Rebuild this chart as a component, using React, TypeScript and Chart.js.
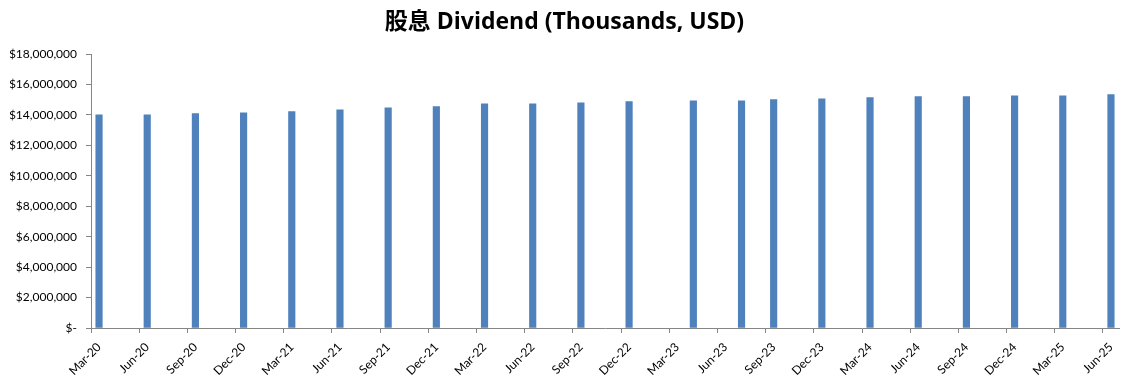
import React, { useEffect, useRef } from 'react';
import { Chart, registerables } from 'chart.js';

Chart.register(...registerables);

// Axis runs monthly from Mar-20 to Jun-25 (date-style axis)
const monthNames = ['Jan', 'Feb', 'Mar', 'Apr', 'May', 'Jun', 'Jul', 'Aug', 'Sep', 'Oct', 'Nov', 'Dec'];
const axisStart = { year: 2020, month: 2 };
const axisMonthCount = 64;

// Dates that carry a bar
const barDates = [
  'Mar-20', 'Jun-20', 'Sep-20', 'Dec-20',
  'Mar-21', 'Jun-21', 'Sep-21', 'Dec-21',
  'Mar-22', 'Jun-22', 'Sep-22', 'Dec-22',
  'Apr-23', 'Jul-23', 'Sep-23', 'Dec-23',
  'Mar-24', 'Jun-24', 'Sep-24', 'Dec-24',
  'Mar-25', 'Jun-25',
];

// Dividend (Thousands, USD)
const dividendValues = [
  14010000, 14010000, 14080000, 14140000,
  14210000, 14340000, 14470000, 14540000,
  14730000, 14730000, 14800000, 14870000,
  14930000, 14930000, 15000000, 15060000,
  15130000, 15200000, 15200000, 15260000,
  15260000, 15330000,
];

// Labelled ticks on the x-axis
const tickLabels = [
  'Mar-20', 'Jun-20', 'Sep-20', 'Dec-20',
  'Mar-21', 'Jun-21', 'Sep-21', 'Dec-21',
  'Mar-22', 'Jun-22', 'Sep-22', 'Dec-22',
  'Mar-23', 'Jun-23', 'Sep-23', 'Dec-23',
  'Mar-24', 'Jun-24', 'Sep-24', 'Dec-24',
  'Mar-25', 'Jun-25',
];

const yTickValues = [0, 2000000, 4000000, 6000000, 8000000, 10000000, 12000000, 14000000, 16000000, 18000000];

const axisMonths: string[] = [];
for (let i = 0; i < axisMonthCount; i++) {
  const m = axisStart.month + i;
  const y = axisStart.year + Math.floor(m / 12);
  axisMonths.push(`${monthNames[m % 12]}-${String(y % 100).padStart(2, '0')}`);
}

const barData = axisMonths.map((m) => {
  const idx = barDates.indexOf(m);
  return idx >= 0 ? dividendValues[idx] : null;
});

const FONT = 'Lato, "Noto Sans CJK TC", sans-serif';
const TITLE_FONT = '"Open Sans", "Noto Sans CJK TC", sans-serif';
const AXIS_COLOR = '#868686';

export default function App() {
  const ref = useRef<HTMLCanvasElement | null>(null);

  useEffect(() => {
    document.body.style.margin = '0';
    const canvas = ref.current;
    if (!canvas) return;
    const chart = new Chart(canvas, {
      type: 'bar',
      data: {
        labels: axisMonths,
        datasets: [
          {
            label: 'Dividend',
            data: barData,
            backgroundColor: '#4F81BD',
            barThickness: 6.5,
          },
        ],
      },
      options: {
        responsive: false,
        animation: false,
        devicePixelRatio: 1,
        layout: { padding: { left: 10, right: 10, top: 0, bottom: 0 } },
        plugins: {
          legend: { display: false },
          tooltip: { enabled: false },
          title: {
            display: true,
            text: '股息 Dividend (Thousands, USD)',
            color: '#000',
            font: { family: TITLE_FONT, size: 23, weight: 'bold' },
            padding: { top: 9, bottom: 17.4 },
          },
        },
        scales: {
          x: {
            type: 'category',
            offset: true,
            grid: {
              offset: true,
              drawOnChartArea: false,
              drawTicks: true,
              tickLength: 5,
              color: (ctx: any) =>
                ctx.index !== undefined && tickLabels.includes(axisMonths[ctx.index]) ? AXIS_COLOR : 'rgba(0,0,0,0)',
            },
            border: { display: true, color: AXIS_COLOR, width: 1 },
            ticks: {
              autoSkip: false,
              maxRotation: 45,
              minRotation: 45,
              padding: 7,
              color: '#000',
              font: { family: FONT, size: 12 },
              callback: (_v: any, i: number) => (tickLabels.includes(axisMonths[i]) ? axisMonths[i] : ''),
            },
            afterFit: (s: any) => {
              s.height = 61;
            },
          },
          y: {
            min: 0,
            max: 18000000,
            afterBuildTicks: (axis: any) => {
              axis.ticks = yTickValues.map((v) => ({ value: v }));
            },
            grid: {
              drawOnChartArea: false,
              drawTicks: true,
              tickLength: 5,
              color: AXIS_COLOR,
            },
            border: { display: true, color: AXIS_COLOR, width: 1 },
            ticks: {
              padding: 9,
              color: '#000',
              font: { family: FONT, size: 12 },
              callback: (v: any) => (Number(v) === 0 ? '$-' : '$' + Number(v).toLocaleString('en-US')),
            },
            afterFit: (s: any) => {
              s.width = 81;
            },
          },
        },
      },
    });
    return () => chart.destroy();
  }, []);

  return <canvas ref={ref} width={1129} height={389} style={{ display: 'block' }} />;
}
